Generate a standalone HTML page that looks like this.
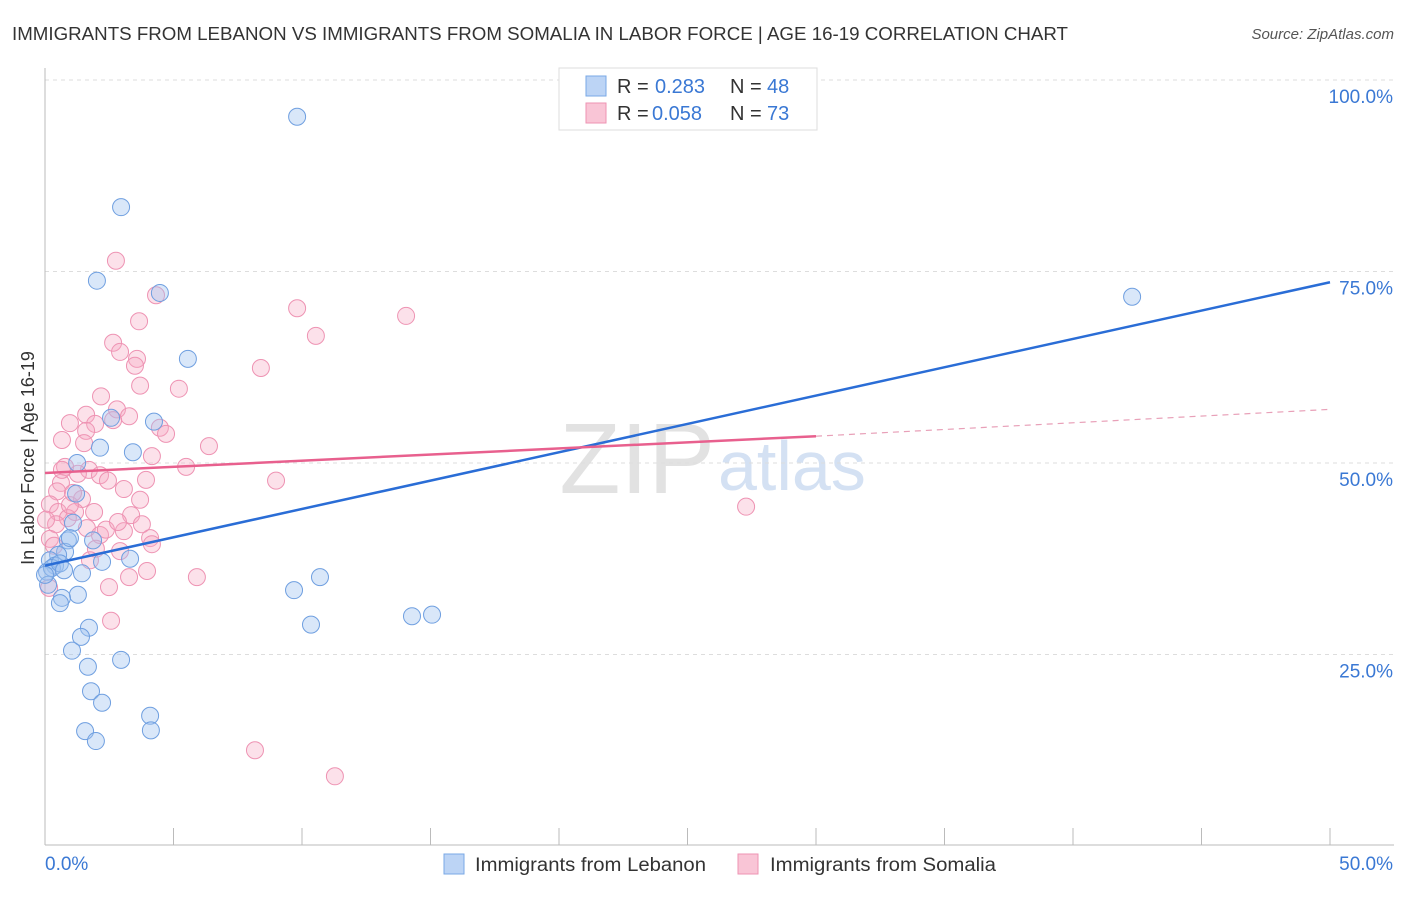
<!DOCTYPE html>
<html><head><meta charset="utf-8"><style>
body{margin:0;background:#fff;font-family:"Liberation Sans",sans-serif;}
svg text{font-family:"Liberation Sans",sans-serif;}
</style></head><body>
<svg id="chart" width="1406" height="892">
<text x="12" y="40" font-size="18" fill="#333" textLength="1056" lengthAdjust="spacingAndGlyphs">IMMIGRANTS FROM LEBANON VS IMMIGRANTS FROM SOMALIA IN LABOR FORCE | AGE 16-19 CORRELATION CHART</text>
<text x="1394" y="39" font-size="15" fill="#555" font-style="italic" text-anchor="end">Source: ZipAtlas.com</text>
<text x="715" y="493" font-size="100" fill="#e2e2e2" text-anchor="end" font-family="Liberation Serif">ZIP</text>
<text x="718" y="490" font-size="70" fill="#d4e1f3">atlas</text>
<g id="grid"></g><g id="axes"></g><g id="pts"></g><g id="lines"></g>
<text transform="translate(34,458) rotate(-90)" font-size="18" fill="#333" text-anchor="middle">In Labor Force | Age 16-19</text>
<g>
<rect x="559" y="68" width="258" height="62" fill="#fff" stroke="#ddd"/>
<rect x="586" y="76" width="20" height="20" fill="#bcd4f5" stroke="#7aa8e6"/>
<rect x="586" y="103" width="20" height="20" fill="#f9c5d6" stroke="#ee93b3"/>
<text x="617" y="93" font-size="20" fill="#333">R =</text>
<text x="655" y="93" font-size="20" fill="#3a78d4">0.283</text>
<text x="730" y="93" font-size="20" fill="#333">N =</text>
<text x="767" y="93" font-size="20" fill="#3a78d4">48</text>
<text x="617" y="120" font-size="20" fill="#333">R =</text>
<text x="652" y="120" font-size="20" fill="#3a78d4">0.058</text>
<text x="730" y="120" font-size="20" fill="#333">N =</text>
<text x="767" y="120" font-size="20" fill="#3a78d4">73</text>
</g>
<g>
<rect x="444" y="854" width="20" height="20" fill="#bcd4f5" stroke="#7aa8e6"/>
<text x="475" y="871" font-size="19" fill="#333" textLength="231" lengthAdjust="spacingAndGlyphs">Immigrants from Lebanon</text>
<rect x="738" y="854" width="20" height="20" fill="#f9c5d6" stroke="#ee93b3"/>
<text x="770" y="871" font-size="19" fill="#333" textLength="226" lengthAdjust="spacingAndGlyphs">Immigrants from Somalia</text>
</g>
</svg>
<script>
const yTicks=[25,50,75,100];
const yTickLabels=["25.0%","50.0%","75.0%","100.0%"];
const xTickLabels=["0.0%","50.0%"];
const bluePx=[[297,117],[121,207],[97,281],[160,293],[188,359],[1132,297],[154,422],[111,418],[100,448],[133,452],[77,463],[76,494],[73,523],[93,540],[68,540],[65,552],[58,555],[50,560],[55,566],[47,572],[52,568],[60,563],[102,562],[130,559],[82,573],[78,595],[62,598],[60,603],[89,628],[81,637],[72,651],[88,667],[91,691],[102,703],[121,660],[85,731],[96,741],[150,716],[151,730],[294,590],[320,577],[311,625],[412,616],[432,615],[48,585],[70,538],[45,575],[64,570]];
const pinkPx=[[116,261],[156,295],[139,321],[297,308],[406,316],[316,336],[113,343],[120,352],[137,359],[135,366],[261,368],[140,386],[179,389],[101,396],[86,415],[117,409],[70,423],[95,424],[129,416],[113,420],[160,428],[166,434],[86,431],[209,446],[152,456],[65,467],[186,467],[89,470],[146,480],[276,481],[100,475],[61,483],[78,474],[57,491],[124,489],[82,499],[50,504],[75,512],[94,512],[58,512],[68,518],[131,515],[56,524],[87,528],[142,524],[124,531],[100,535],[150,538],[152,544],[50,539],[120,551],[96,549],[147,571],[129,577],[197,577],[109,587],[49,588],[111,621],[746,507],[255,750],[335,776],[62,470],[70,505],[54,546],[106,530],[84,443],[73,493],[108,481],[118,522],[140,500],[90,560],[46,520],[62,440]];
const toData=p=>[+((p[0]-45)/25.7).toFixed(2),+(100-(p[1]-80)/7.66).toFixed(1)];
const blueX=bluePx.map(p=>toData(p)[0]), blueY=bluePx.map(p=>toData(p)[1]);
const pinkX=pinkPx.map(p=>toData(p)[0]), pinkY=pinkPx.map(p=>toData(p)[1]);
const blueTrend=[36.6,73.6];
const pinkTrend=[48.7,53.5,57.0];
const sx=v=>45+v*25.7, sy=v=>80+(100-v)*7.66;
const NS="http://www.w3.org/2000/svg";
function mk(t,a,parent){const e=document.createElementNS(NS,t);for(const k in a)e.setAttribute(k,a[k]);document.getElementById(parent).appendChild(e);return e;}
yTicks.forEach((v,i)=>{
 const l=mk('line',{x1:45,x2:1394,y1:sy(v),y2:sy(v),stroke:'#ddd','stroke-dasharray':'4,4'},'grid');
 
 
 const t=mk('text',{x:1393,y:sy(v)+23,'font-size':19,fill:'#3a78d4','text-anchor':'end'},'axes');
 t.textContent=yTickLabels[i];
 
 
});
const ax=mk('line',{x1:45,x2:1394,y1:845,y2:845,stroke:'#bbb'},'axes');


const ay=mk('line',{x1:45,x2:45,y1:68,y2:845,stroke:'#bbb'},'axes');


for(let i=0;i<=10;i++){const t=mk('line',{x1:sx(i*5),x2:sx(i*5),y1:828,y2:845,stroke:'#bbb'},'axes');
 
 }
[[0,'start',45],[50,'end',1393]].forEach((d,i)=>{const t=mk('text',{x:d[2],y:870,'font-size':19,fill:'#3a78d4','text-anchor':d[1]},'axes');t.textContent=xTickLabels[i];
 
 });
pinkX.forEach((x,i)=>{const c=mk('circle',{cx:sx(x),cy:sy(pinkY[i]),r:8.5,fill:'rgba(245,170,195,0.35)',stroke:'#ee93b3','stroke-width':1},'pts');
 
 });
blueX.forEach((x,i)=>{const c=mk('circle',{cx:sx(x),cy:sy(blueY[i]),r:8.5,fill:'rgba(160,195,240,0.4)',stroke:'#6f9fe0','stroke-width':1},'pts');
 
 });
const bl=mk('line',{x1:sx(0),y1:sy(blueTrend[0]),x2:sx(50),y2:sy(blueTrend[1]),stroke:'#2a6dd6','stroke-width':2.5},'lines');


const pl=mk('line',{x1:sx(0),y1:sy(pinkTrend[0]),x2:sx(30),y2:sy(pinkTrend[1]),stroke:'#e8608e','stroke-width':2.5},'lines');


const pd=mk('line',{x1:sx(30),y1:sy(pinkTrend[1]),x2:sx(50),y2:sy(pinkTrend[2]),stroke:'#e8a0b8','stroke-width':1.2,'stroke-dasharray':'6,5'},'lines');


</script>
</body></html>
